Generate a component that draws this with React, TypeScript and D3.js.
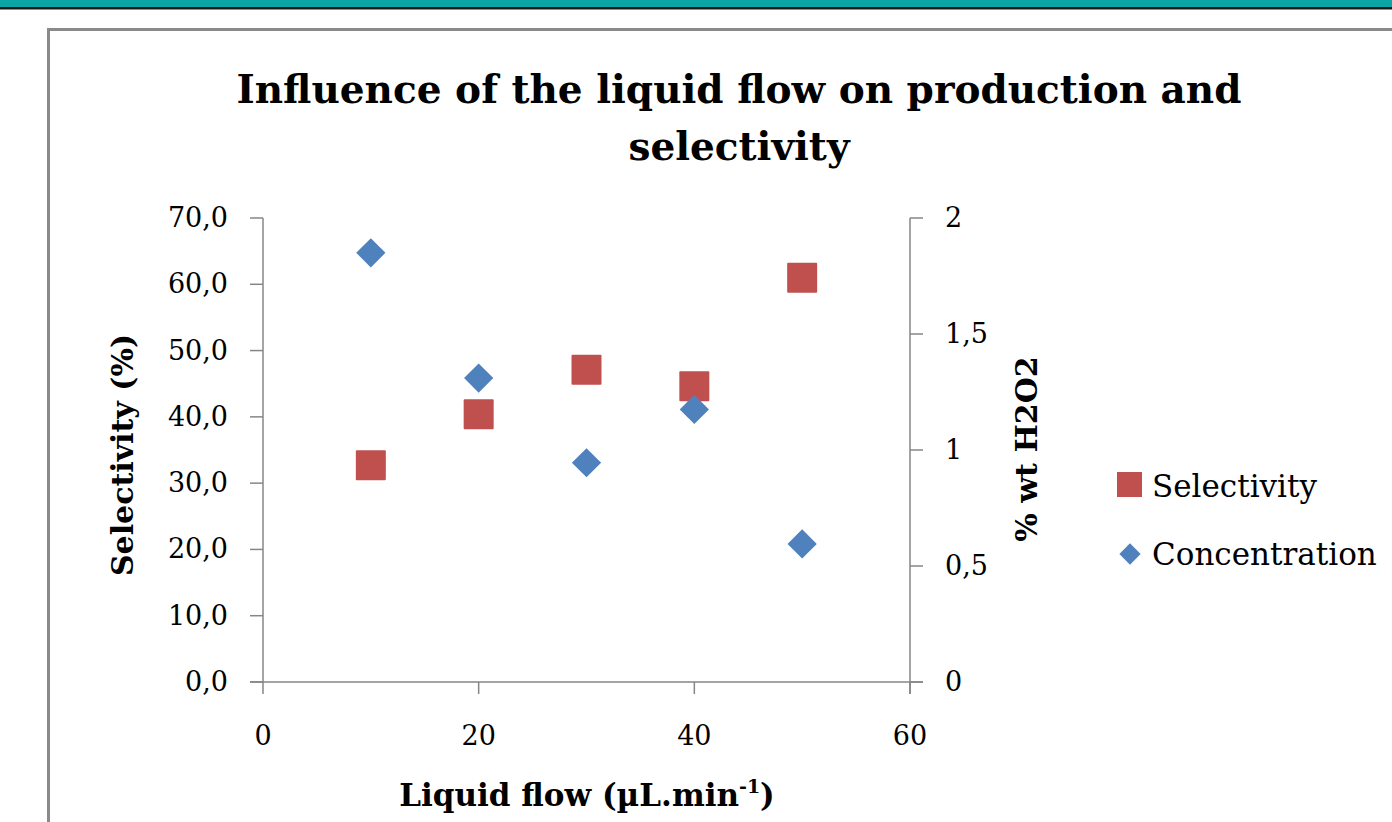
import React from "react";
import * as d3 from "d3";

// Liquid flow (µL/min)
const flows = [10, 20, 30, 40, 50];
// Selectivity (%)
const selectivity = [32.7, 40.4, 47.1, 44.6, 61.0];
// Concentration (% wt H2O2)
const concentration = [1.85, 1.31, 0.945, 1.175, 0.595];

const xTicks = [0, 20, 40, 60];
const leftTicks = [0, 10, 20, 30, 40, 50, 60, 70];
const rightTicks = [0, 0.5, 1, 1.5, 2];

const FONT = "'DejaVu Serif', serif";
const AXIS = "#868686";
const RED = "#c0504d";
const BLUE = "#4f81bd";

const fmtComma = (d: number, digits: number) => d.toFixed(digits).replace(".", ",");

export default function App() {
  const width = 1392;
  const height = 822;

  const x = d3.scaleLinear().domain([0, 60]).range([263, 910]);
  const yL = d3.scaleLinear().domain([0, 70]).range([682, 218]);
  const yR = d3.scaleLinear().domain([0, 2]).range([682, 218]);

  const sq = 30;
  const diamond = d3.symbol().type(d3.symbolDiamond2).size(33 * 33 / 2)();

  return (
    <svg
      width={width}
      height={height}
      style={{ position: "absolute", left: 0, top: 0, background: "#fff" }}
      fontFamily={FONT}
    >
      {/* top banner */}
      <rect x={0} y={0} width={width} height={7} fill="#0aa5a4" />
      <rect x={0} y={7} width={width} height={2.5} fill="#1a1a1a" />

      {/* frame */}
      <rect x={48.5} y={29.5} width={width} height={height} fill="#fff" stroke="#8a8a8a" strokeWidth={3} />

      {/* title */}
      <text x={739} y={103} textAnchor="middle" fontSize={39} fontWeight="bold" fill="#000">
        Influence of the liquid flow on production and
      </text>
      <text x={739} y={160} textAnchor="middle" fontSize={39} fontWeight="bold" fill="#000">
        selectivity
      </text>

      {/* left axis */}
      <line x1={263} x2={263} y1={yL(70)} y2={yL(0)} stroke={AXIS} strokeWidth={1.5} />
      {leftTicks.map((t) => (
        <g key={"l" + t}>
          <line x1={250} x2={263} y1={yL(t)} y2={yL(t)} stroke={AXIS} strokeWidth={1.5} />
          <text x={228} y={yL(t) + 9} textAnchor="end" fontSize={27} fill="#000">
            {fmtComma(t, 1)}
          </text>
        </g>
      ))}

      {/* right axis */}
      <line x1={910} x2={910} y1={yR(2)} y2={yR(0) + 12} stroke={AXIS} strokeWidth={1.5} />
      {rightTicks.map((t) => (
        <g key={"r" + t}>
          <line x1={910} x2={923} y1={yR(t)} y2={yR(t)} stroke={AXIS} strokeWidth={1.5} />
          <text x={945} y={yR(t) + 9} textAnchor="start" fontSize={27} fill="#000">
            {String(t).replace(".", ",")}
          </text>
        </g>
      ))}

      {/* x axis */}
      <line x1={250} x2={923} y1={yL(0)} y2={yL(0)} stroke={AXIS} strokeWidth={1.5} />
      {xTicks.map((t) => (
        <g key={"x" + t}>
          <line x1={x(t)} x2={x(t)} y1={yL(0)} y2={yL(0) + 12} stroke={AXIS} strokeWidth={1.5} />
          <text x={x(t)} y={745} textAnchor="middle" fontSize={27} fill="#000">
            {t}
          </text>
        </g>
      ))}

      {/* axis titles */}
      <text x={587} y={806} textAnchor="middle" fontSize={31} fontWeight="bold" fill="#000">
        Liquid flow (µL.min
        <tspan fontSize={19} dy={-13}>-1</tspan>
        <tspan dy={13}>)</tspan>
      </text>
      <text
        transform="translate(133,455) rotate(-90)"
        textAnchor="middle"
        fontSize={30}
        fontWeight="bold"
        fill="#000"
      >
        Selectivity (%)
      </text>
      <text
        transform="translate(1037,449) rotate(-90)"
        textAnchor="middle"
        fontSize={30}
        fontWeight="bold"
        fill="#000"
      >
        % wt H2O2
      </text>

      {/* selectivity squares */}
      {flows.map((f, i) => (
        <rect
          key={"s" + i}
          x={x(f) - sq / 2}
          y={yL(selectivity[i]) - sq / 2}
          width={sq}
          height={sq}
          fill={RED}
          rx={1}
        />
      ))}

      {/* concentration diamonds */}
      {flows.map((f, i) => (
        <path key={"c" + i} d={diamond || ""} transform={`translate(${x(f)},${yR(concentration[i])})`} fill={BLUE} />
      ))}

      {/* legend */}
      <rect x={1117} y={472} width={25} height={25} fill={RED} />
      <text x={1152} y={497} fontSize={31} fill="#000">Selectivity</text>
      <path d={d3.symbol().type(d3.symbolDiamond2).size(24 * 24 / 2)() || ""} transform="translate(1130,554)" fill={BLUE} />
      <text x={1152} y={565} fontSize={31} fill="#000">Concentration</text>
    </svg>
  );
}
